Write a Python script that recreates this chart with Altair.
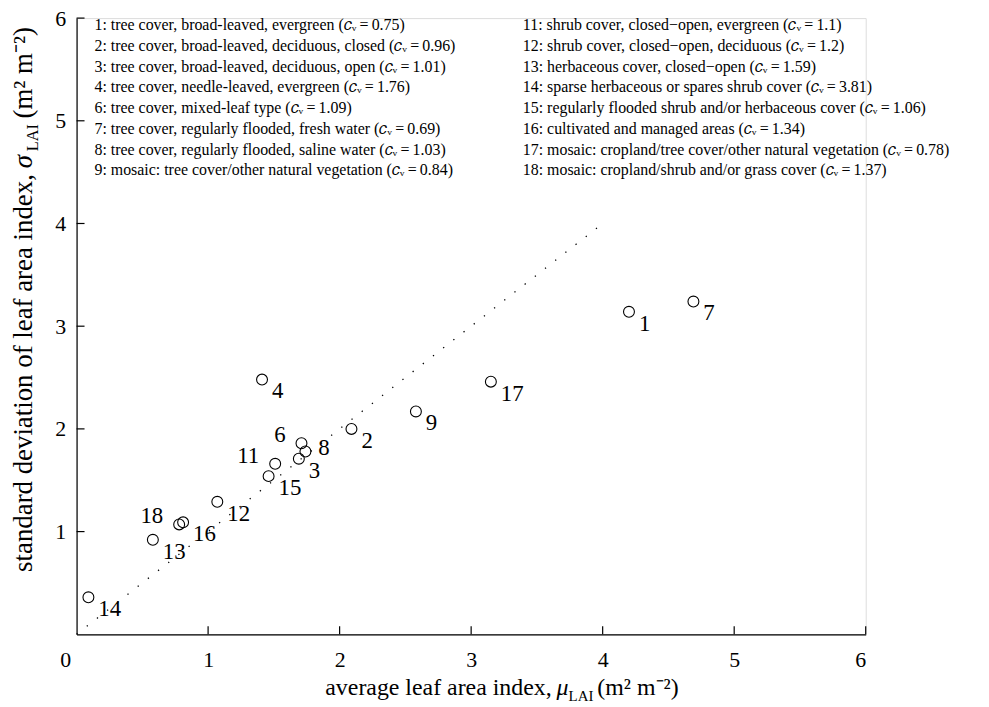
import altair as alt
import pandas as pd

# ---- data ----
class_id = [1, 2, 3, 4, 6, 7, 8, 9, 11, 12, 13, 14, 15, 16, 17, 18]
class_name = [
    "tree cover, broad-leaved, evergreen",
    "tree cover, broad-leaved, deciduous, closed",
    "tree cover, broad-leaved, deciduous, open",
    "tree cover, needle-leaved, evergreen",
    "tree cover, mixed-leaf type",
    "tree cover, regularly flooded, fresh water",
    "tree cover, regularly flooded, saline water",
    "mosaic: tree cover/other natural vegetation",
    "shrub cover, closed\u2212open, evergreen",
    "shrub cover, closed\u2212open, deciduous",
    "herbaceous cover, closed\u2212open",
    "sparse herbaceous or spares shrub cover",
    "regularly flooded shrub and/or herbaceous cover",
    "cultivated and managed areas",
    "mosaic: cropland/tree cover/other natural vegetation",
    "mosaic: cropland/shrub and/or grass cover",
]
cv = ["0.75", "0.96", "1.01", "1.76", "1.09", "0.69", "1.03", "0.84",
      "1.1", "1.2", "1.59", "3.81", "1.06", "1.34", "0.78", "1.37"]
mu_lai = [4.20, 2.09, 1.69, 1.41, 1.71, 4.69, 1.74, 2.58,
          1.51, 1.07, 0.58, 0.09, 1.46, 0.81, 3.15, 0.78]
sigma_lai = [3.14, 2.00, 1.71, 2.48, 1.86, 3.24, 1.78, 2.17,
             1.66, 1.29, 0.92, 0.36, 1.54, 1.09, 2.46, 1.07]
label_side = ["lr", "lr", "lr", "lr", "ul", "lr", "r", "lr",
              "ul", "lr", "lr", "lr", "lr", "lr", "lr", "ul"]
one_to_one = [0, 4]
x_ticks = [0, 1, 2, 3, 4, 5, 6]
y_ticks = [1, 2, 3, 4, 5, 6]

FONT = "Liberation Serif"
W, H = 794, 620

pts = pd.DataFrame({"id": [str(i) for i in class_id], "mu": mu_lai,
                    "sigma": sigma_lai, "side": label_side})
line_df = pd.DataFrame({"mu": one_to_one, "sigma": one_to_one})
xt = pd.DataFrame({"v": x_ticks[1:]})
yt = pd.DataFrame({"v": y_ticks})

xscale = alt.Scale(domain=[0, 6], nice=False, zero=False)
yscale = alt.Scale(domain=[0, 6], nice=False, zero=False)

xaxis = alt.Axis(values=x_ticks, format="d", ticks=False, grid=False, domainColor="black",
                 domainWidth=1.2, labelFont=FONT, labelFontSize=22,
                 labelColor="black", labelPadding=15, title=None,
                 labelOffset={"condition": {"test": "datum.value === 0", "value": -17}, "value": 0})
yaxis = alt.Axis(values=y_ticks, format="d", ticks=False, grid=False, domainColor="black",
                 domainWidth=1.2, labelFont=FONT, labelFontSize=22,
                 labelColor="black", labelPadding=11, title=None)

points = alt.Chart(pts).mark_point(shape="circle", filled=False, size=120,
                                   stroke="black", strokeWidth=1.1, opacity=1).encode(
    x=alt.X("mu:Q", scale=xscale, axis=xaxis),
    y=alt.Y("sigma:Q", scale=yscale, axis=yaxis),
)

diag = alt.Chart(line_df).mark_line(color="black", strokeWidth=1.3,
                                    strokeDash=[1.3, 11.7]).encode(
    x=alt.X("mu:Q", scale=xscale), y=alt.Y("sigma:Q", scale=yscale))

def lab(side, align, dx, dy):
    return alt.Chart(pts).transform_filter(alt.datum.side == side).mark_text(
        font=FONT, fontSize=23, align=align, baseline="middle", dx=dx, dy=dy,
        color="black").encode(
        x=alt.X("mu:Q", scale=xscale), y=alt.Y("sigma:Q", scale=yscale), text="id:N")

labels = lab("lr", "left", 10, 12) + lab("r", "left", 13, -3) + lab("ul", "right", -16, -8)

xtick = alt.Chart(xt).mark_rule(color="black", strokeWidth=1.2).encode(
    x=alt.X("v:Q", scale=xscale), y=alt.value(H), y2=alt.value(H - 8))
ytick = alt.Chart(yt).mark_rule(color="black", strokeWidth=1.2).encode(
    y=alt.Y("v:Q", scale=yscale), x=alt.value(0), x2=alt.value(8))

# legend block (two columns)
entries = [f"{i}: {n} (\U0001D450\u1D65\u2009=\u2009{c})"
           for i, n, c in zip(class_id, class_name, cv)]
leg_df = pd.DataFrame({"t1": ["\n".join(entries[:8])], "t2": ["\n".join(entries[8:])]})
LEGFS = 16
leg1 = alt.Chart(leg_df).mark_text(font=FONT, fontSize=LEGFS, align="left",
                                   baseline="alphabetic", lineBreak="\n",
                                   lineHeight=20.9, color="black").encode(
    x=alt.value(18), y=alt.value(12), text="t1:N")
leg2 = alt.Chart(leg_df).mark_text(font=FONT, fontSize=LEGFS, align="left",
                                   baseline="alphabetic", lineBreak="\n",
                                   lineHeight=20.9, color="black").encode(
    x=alt.value(449), y=alt.value(12), text="t2:N")

# axis titles built from pieces (main text, italic symbol, subscript, units)
tdf = pd.DataFrame({"a": ["average leaf area index,"], "mu": ["\u03bc"], "sub": ["LAI"],
                    "u": ["(m\u00b2 m\u207b\u00b2)"],
                    "ya": ["standard deviation of leaf area index,"], "sg": ["\u03c3"]})

def piece(field, x, y, size, align, dy=0, angle=0, italic=False):
    kw = dict(font=FONT, fontSize=size, align=align, baseline="alphabetic",
              dy=dy, color="black")
    if angle:
        kw["angle"] = angle
    if italic:
        kw["fontStyle"] = "italic"
    return alt.Chart(tdf).mark_text(**kw).encode(
        x=alt.value(x), y=alt.value(y), text=f"{field}:N")

XY = 681
x_title = (piece("a", 478, XY, 24, "right")
           + piece("mu", 483, XY, 24, "left", italic=True)
           + piece("sub", 495, XY, 15, "left", dy=6)
           + piece("u", 524, XY, 24, "left"))

YX = -45
y_title = (piece("ya", YX, 157, 27, "right", angle=270)
           + piece("sg", YX, 151, 27, "left", angle=270, italic=True)
           + piece("sub", YX, 134, 16.5, "left", dy=6, angle=270)
           + piece("u", YX, 101, 27, "left", angle=270))

chart = alt.layer(
    diag, points, labels, xtick, ytick, leg1, leg2, x_title, y_title
).properties(
    width=W, height=H, autosize="none",
    padding={"left": 69, "top": 8, "right": 116, "bottom": 70},
).configure_view(stroke=None).configure(background="white")

chart.save("out.html", embed_options={"renderer": "svg", "actions": False})
